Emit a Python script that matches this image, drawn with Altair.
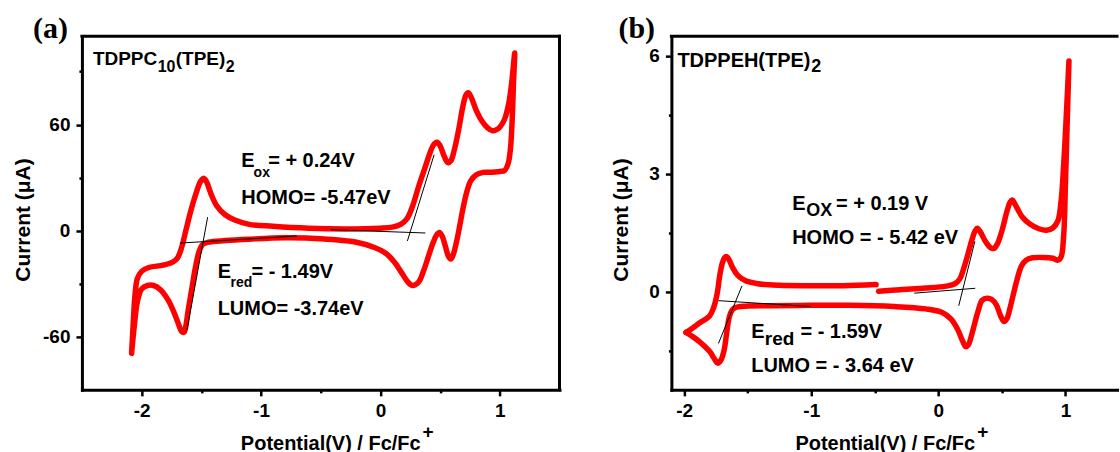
import altair as alt
import pandas as pd

SANS = "Liberation Sans, Arial, sans-serif"
SERIF = "Liberation Serif, Times New Roman, serif"
RED = "#ff0000"

# ---------------- (a) TDPPC10(TPE)2 : one closed scan ----------------
# anodic sweep from the negative vertex up to the positive vertex,
# then the cathodic sweep back down to the negative vertex
a_potential = [
    -2.084, -2.07, -2.055, -2.035, -2.0, -1.94, -1.82, -1.74, -1.70, -1.665,
    -1.63, -1.585, -1.54, -1.505, -1.477, -1.455, -1.42, -1.37, -1.30, -1.22,
    -1.10, -0.90, -0.60, -0.30, 0.0, 0.10, 0.17, 0.22, 0.27, 0.32,
    0.37, 0.41, 0.445, 0.474, 0.50, 0.535, 0.565, 0.59, 0.62, 0.655,
    0.69, 0.715, 0.735, 0.76, 0.80, 0.85, 0.90, 0.94, 0.967, 1.00,
    1.04, 1.075, 1.10, 1.125,
    1.115, 1.105, 1.09, 1.07, 1.04, 1.00, 0.93, 0.86, 0.80, 0.755,
    0.72, 0.69, 0.665, 0.635, 0.61, 0.59, 0.57, 0.545, 0.52, 0.495,
    0.47, 0.44, 0.40, 0.36, 0.32, 0.27, 0.23, 0.18, 0.12, 0.05,
    -0.05, -0.20, -0.50, -0.80, -1.10, -1.30, -1.44, -1.49, -1.52, -1.55,
    -1.58, -1.61, -1.63, -1.645, -1.665, -1.69, -1.73, -1.78, -1.84, -1.90,
    -1.95, -2.0, -2.035, -2.06, -2.084,
]
a_current = [
    -69.3, -52, -36, -27, -23, -20.8, -19.5, -17.8, -15.5, -9.5,
    0, 12, 22, 28, 29.6, 27.5, 21, 14, 9, 6.0,
    3.6, 2.5, 1.4, 1.0, 1.4, 2.0, 3.6, 6.5, 14, 25,
    35, 43, 48.5, 50, 48, 42, 38.5, 39.5, 46, 57,
    70, 76.5, 78, 75.5, 68.5, 62, 58, 56.5, 56.9, 58.5,
    63, 72, 84, 100.5,
    84, 65, 47, 38, 34, 33.5, 33, 33, 31.5, 28,
    21, 12, 3, -7, -13.5, -16, -14.5, -9, -3.5, -1,
    -2.5, -7, -15, -23, -29, -31, -29, -24, -18, -13,
    -9.5, -6.5, -4.5, -4.0, -4.8, -5.6, -6.5, -7.8, -12, -21,
    -33, -45, -54, -57.5, -57, -53, -46, -39, -33.5, -31,
    -31, -33, -40, -53, -69.3,
]

# onset construction lines (start / end points)
a_tan_x1 = [-1.68, -1.447, -0.415, 0.226]
a_tan_y1 = [-7.0, 7.7, 0.6, -5.8]
a_tan_x2 = [-0.70, -1.62, 0.377, 0.45]
a_tan_y2 = [-3.0, -56.0, -1.3, 43.0]

a_note_text = ["TDPPC", "10", "(TPE)", "2",
               "E", "ox", "= + 0.24V", "HOMO= -5.47eV",
               "E", "red", "= - 1.49V", "LUMO= -3.74eV"]
a_note_x = [-2.408, -1.865, -1.714, -1.296,
            -1.165, -1.062, -0.940, -1.165,
            -1.363, -1.255, -1.080, -1.363]
a_note_y = [93.6, 89.7, 93.6, 89.7,
            35.8, 30.5, 35.8, 15.1,
            -26.7, -31.8, -26.7, -47.6]
a_note_size = [19, 16, 19, 16, 20, 14, 20, 20, 20, 14, 20, 20]

# ---------------- (b) TDPPEH(TPE)2 : scan recorded in two pieces ----------------
b1_potential = [-1.985, -1.93, -1.88, -1.80, -1.765, -1.74, -1.72, -1.70, -1.68, -1.666,
                -1.645, -1.62, -1.58, -1.52, -1.42, -1.25, -1.0, -0.75, -0.49]
b1_current = [-1.04, -0.92, -0.80, -0.62, -0.38, -0.05, 0.40, 0.72, 0.87, 0.89,
              0.80, 0.62, 0.42, 0.28, 0.20, 0.16, 0.15, 0.15, 0.18]

b2_potential = [
    -0.47, -0.30, -0.10, 0.06, 0.13, 0.17, 0.20, 0.235, 0.265, 0.29,
    0.306, 0.33, 0.37, 0.41, 0.437, 0.465, 0.50, 0.54, 0.565, 0.581,
    0.61, 0.66, 0.72, 0.79, 0.85, 0.90, 0.94, 0.965, 0.985, 1.005,
    1.020, 1.027,
    1.015, 1.000, 0.985, 0.965, 0.94, 0.90, 0.82, 0.74, 0.69, 0.655,
    0.625, 0.595, 0.565, 0.54, 0.516, 0.49, 0.455, 0.42, 0.385, 0.345,
    0.31, 0.27, 0.235, 0.215, 0.19, 0.15, 0.10, 0.03, -0.10, -0.35,
    -0.70, -1.00, -1.30, -1.52, -1.60, -1.625, -1.645, -1.665, -1.685, -1.71,
    -1.736, -1.76, -1.80, -1.88, -1.94, -1.985,
]
b2_current = [
    0.01, 0.05, 0.09, 0.14, 0.20, 0.33, 0.60, 0.98, 1.33, 1.55,
    1.61, 1.52, 1.28, 1.12, 1.10, 1.22, 1.55, 2.05, 2.28, 2.33,
    2.18, 1.90, 1.72, 1.60, 1.56, 1.62, 1.80, 2.30, 3.2, 4.4,
    5.4, 5.87,
    4.5, 2.8, 1.40, 0.88, 0.80, 0.85, 0.87, 0.86, 0.80, 0.66,
    0.38, 0.00, -0.40, -0.68, -0.76, -0.62, -0.33, -0.20, -0.17, -0.22,
    -0.52, -1.00, -1.36, -1.40, -1.25, -0.95, -0.70, -0.53, -0.44, -0.38,
    -0.35, -0.35, -0.36, -0.37, -0.41, -0.48, -0.65, -1.05, -1.48, -1.74,
    -1.82, -1.72, -1.52, -1.27, -1.13, -1.04,
]

b_tan_x1 = [-1.73, -1.545, -0.19, 0.16]
b_tan_y1 = [-0.23, 0.145, -0.04, -0.36]
b_tan_x2 = [-1.006, -1.73, 0.29, 0.287]
b_tan_y2 = [-0.38, -1.32, 0.085, 1.28]

b_note_text = ["TDPPEH(TPE)", "2",
               "E", "OX", "= + 0.19 V", "HOMO = - 5.42 eV",
               "E", "red", "= - 1.59V", "LUMO = - 3.64 eV"]
b_note_x = [-2.053, -1.0,
            -1.150, -1.040, -0.805, -1.150,
            -1.472, -1.365, -1.085, -1.472]
b_note_y = [5.712, 5.585,
            2.076, 1.923, 2.076, 1.211,
            -1.179, -1.357, -1.179, -2.043]
b_note_size = [20, 18, 20, 18, 20, 20, 20, 19, 20, 20]


def curve_table(pieces):
    rows = []
    for n, (v, c) in enumerate(pieces):
        for k, (p, i) in enumerate(zip(v, c)):
            rows.append({"piece": n, "k": k, "v": p, "i": i})
    return pd.DataFrame(rows)


def axis(values, step, orient):
    minor = f"datum.value % {step} != 0"
    return alt.Axis(
        values=values, title=None, grid=False, orient=orient,
        labelExpr=f"{minor} ? '' : '' + datum.value",
        tickSize={"condition": {"test": minor, "value": 3}, "value": 6},
        tickWidth=2.5, tickColor="black",
        domainColor="black", domainWidth=3, domainCap="square",
        labelFont=SANS, labelFontSize=19, labelFontWeight="bold", labelColor="black",
        labelPadding=6, labelFlush=False, labelOverlap=False, labelBound=False,
    )


def text_at(text, x, y, size, font=SANS, angle=0, align="left", baseline="alphabetic"):
    kw = dict(text=text, font=font, fontSize=size, fontWeight="bold", color="black",
              align=align, baseline=baseline)
    if angle:
        kw["angle"] = angle
    return alt.Chart(pd.DataFrame({"k": [0]})).mark_text(**kw).encode(
        x=alt.value(x), y=alt.value(y))


def panel(pieces, tans, notes, xdom, ydom, xvals, yvals, ystep, W, H,
          letter, letter_x, ytitle_x, xtitle_end, right_frame, spacer=False):
    xs = alt.Scale(domain=xdom, nice=False, zero=False)
    ys = alt.Scale(domain=ydom, nice=False, zero=False)
    xa = axis(xvals, 1, "bottom")
    ya = axis(yvals, ystep, "left")

    curve = alt.Chart(curve_table(pieces)).mark_line(
        color=RED, strokeWidth=5.5, interpolate="catmull-rom",
        strokeCap="round", strokeJoin="round",
    ).encode(
        x=alt.X("v:Q", scale=xs, axis=xa),
        y=alt.Y("i:Q", scale=ys, axis=ya),
        detail="piece:N",
        order="k:Q",
    )

    tx1, ty1, tx2, ty2 = tans
    tangents = alt.Chart(pd.DataFrame({"x1": tx1, "y1": ty1, "x2": tx2, "y2": ty2})).mark_rule(
        color="black", strokeWidth=1
    ).encode(
        x=alt.X("x1:Q", scale=xs, axis=xa), y=alt.Y("y1:Q", scale=ys, axis=ya),
        x2="x2:Q", y2="y2:Q",
    )

    nt, nx, ny, ns = notes
    labels = alt.Chart(pd.DataFrame({"t": nt, "x": nx, "y": ny, "s": ns})).mark_text(
        align="left", baseline="alphabetic", font=SANS, fontWeight="bold", color="black"
    ).encode(
        x=alt.X("x:Q", scale=xs, axis=xa), y=alt.Y("y:Q", scale=ys, axis=ya),
        text="t:N", size=alt.Size("s:Q", scale=None, legend=None),
    )

    one = pd.DataFrame({"k": [0]})
    frame = [alt.Chart(one).mark_rule(color="black", strokeWidth=3, strokeCap="square").encode(
        x=alt.value(0), x2=alt.value(W), y=alt.value(0))]
    if right_frame:
        frame.append(alt.Chart(one).mark_rule(color="black", strokeWidth=3, strokeCap="square").encode(
            x=alt.value(W), y=alt.value(0), y2=alt.value(H)))

    outside = [
        text_at(letter, letter_x, 2, 30, font=SERIF),
        text_at("Current (μA)", ytitle_x, H / 2 + 7, 21, angle=270, align="center", baseline="middle"),
        text_at("Potential(V) / Fc/Fc", xtitle_end, H + 60, 20, align="right"),
        text_at("+", xtitle_end + 2, H + 42, 19, baseline="middle"),
    ]
    layers = []
    if spacer:
        layers.append(alt.Chart(one).mark_rect(opacity=0).encode(
            x=alt.value(-82), x2=alt.value(0), y=alt.value(-36), y2=alt.value(H + 62)))
    layers += [curve, tangents, labels] + frame + outside
    return alt.layer(*layers).properties(width=W, height=H)


pa = panel(
    [(a_potential, a_current)],
    (a_tan_x1, a_tan_y1, a_tan_x2, a_tan_y2),
    (a_note_text, a_note_x, a_note_y, a_note_size),
    [-2.5, 1.5], [-90, 110],
    [-2, -1.5, -1, -0.5, 0, 0.5, 1], [-60, -30, 0, 30, 60, 90], 60,
    478, 354, "(a)", -49, -58, 339, True, spacer=True,
)

pb = panel(
    [(b1_potential, b1_current), (b2_potential, b2_current)],
    (b_tan_x1, b_tan_y1, b_tan_x2, b_tan_y2),
    (b_note_text, b_note_x, b_note_y, b_note_size),
    [-2.1, 1.405], [-2.5, 6.5],
    [-2, -1.5, -1, -0.5, 0, 0.5, 1], [-1.5, 0, 1.5, 3, 4.5, 6], 3,
    446, 354, "(b)", -53, -49, 304, False,
)

chart = alt.hconcat(pa, pb, spacing=112, bounds="flush").configure_view(
    stroke=None
).properties(padding={"left": 0, "top": 0, "right": 0, "bottom": 0})

chart.save("out.html", embed_options={"renderer": "svg", "actions": False})
